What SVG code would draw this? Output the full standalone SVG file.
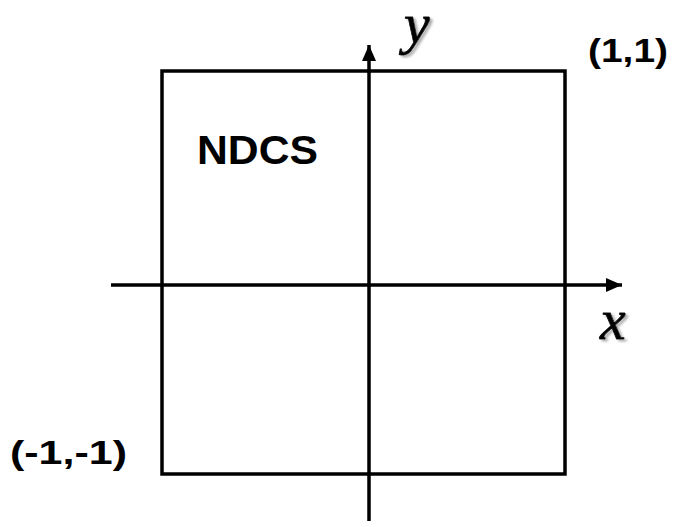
<svg xmlns="http://www.w3.org/2000/svg" width="679" height="527" viewBox="0 0 679 527">
<style>
.ln{stroke:#000;stroke-width:3.5;fill:none}
.lbl{font-family:"Liberation Sans",Arial,sans-serif;font-weight:bold;fill:#000}
.ax{font-family:"Liberation Serif","Times New Roman",serif;font-style:italic;font-size:58px;fill:#000;stroke:#000;stroke-width:0.8;filter:url(#sh)}
</style>
<defs>
<marker id="ah" viewBox="0 0 16 14" refX="16" refY="7" markerWidth="16" markerHeight="14" markerUnits="userSpaceOnUse" orient="auto">
<path d="M0,0 L16,7 L0,14 Z" fill="#000"/>
</marker>
<filter id="sh" x="-20%" y="-20%" width="150%" height="150%">
<feDropShadow dx="2.5" dy="2" stdDeviation="0.8" flood-color="#999" flood-opacity="0.8"/>
</filter>
</defs>
<g id="box">
<rect class="ln" x="162" y="71" width="403" height="403"/>
<text class="lbl" x="197" y="164" font-size="40" textLength="121" lengthAdjust="spacingAndGlyphs">NDCS</text>
</g>
<g id="connectors">
<line class="ln" x1="111" y1="285" x2="622" y2="285" marker-end="url(#ah)"/>
<line class="ln" x1="369" y1="521" x2="369" y2="45" marker-end="url(#ah)"/>
</g>
<g id="label-y">
<text class="ax" x="404" y="43">y</text>
</g>
<g id="label-x">
<text class="ax" x="600" y="339">x</text>
</g>
<g id="label-11">
<text class="lbl" x="588" y="62" font-size="33" textLength="80" lengthAdjust="spacingAndGlyphs">(1,1)</text>
</g>
<g id="label-m11">
<text class="lbl" x="10" y="464" font-size="33" textLength="117" lengthAdjust="spacingAndGlyphs">(-1,-1)</text>
</g>
</svg>
